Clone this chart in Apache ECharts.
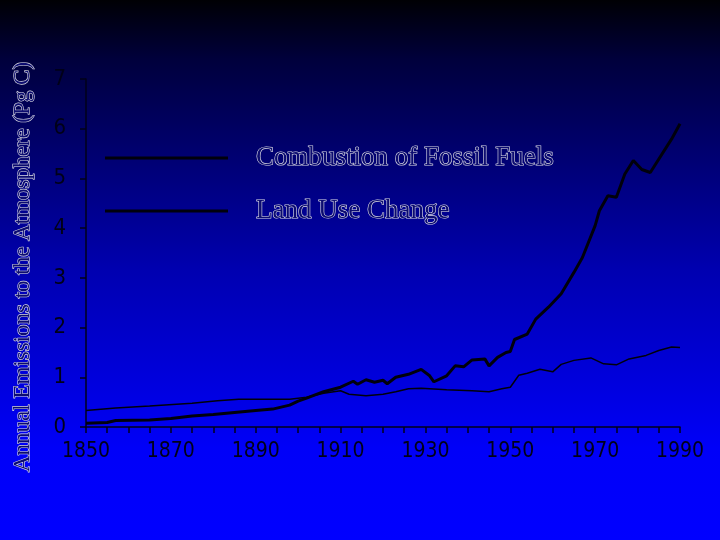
<!DOCTYPE html>
<html>
<head>
<meta charset="utf-8">
<script src="https://cdn.jsdelivr.net/npm/echarts@6/dist/echarts.min.js"></script>
<style>html,body{margin:0;padding:0;background:#000;}#c{width:720px;height:540px;}</style>
</head>
<body>
<div id="c"></div>
<script>
const seriesNames = ['Combustion of Fossil Fuels', 'Land Use Change'];
const yAxisTitle = 'Annual Emissions to the Atmosphere (Pg C)';

const fossilYears = [1850,1855,1857,1865,1870,1875,1880,1885,1890,1894,1898,1900,1902,1906,1910,1913,1914,1916,1918,1920,1921,1923,1926,1929,1931,1932,1935,1937,1939,1941,1944,1945,1947,1949,1950,1951,1954,1956,1959,1962,1965,1967,1970,1971,1973,1975,1977,1979,1981,1983,1988,1990];
const fossilValues = [0.075,0.09,0.13,0.14,0.17,0.22,0.25,0.29,0.33,0.36,0.44,0.52,0.58,0.71,0.80,0.92,0.86,0.95,0.90,0.94,0.87,1.00,1.06,1.16,1.03,0.91,1.03,1.23,1.21,1.35,1.37,1.23,1.40,1.50,1.52,1.76,1.87,2.17,2.41,2.68,3.11,3.41,4.05,4.35,4.65,4.62,5.09,5.36,5.18,5.12,5.79,6.10];

const landYears = [1850,1857,1865,1875,1881,1886,1898,1902,1906,1910,1912,1916,1920,1923,1926,1929,1935,1941,1945,1948,1950,1952,1954,1957,1960,1962,1965,1969,1972,1975,1978,1982,1985,1988,1990];
const landValues = [0.33,0.38,0.42,0.48,0.53,0.56,0.56,0.60,0.68,0.73,0.66,0.63,0.66,0.71,0.77,0.78,0.75,0.73,0.71,0.77,0.80,1.04,1.08,1.16,1.11,1.26,1.34,1.39,1.27,1.25,1.37,1.44,1.54,1.61,1.60];

const xMin = 1850, xMax = 1990, xInterval = 20;
const yMin = 0, yMax = 7, yInterval = 1;

const pair = (xs, ys) => xs.map((x, i) => [x, ys[i]]);

const outlineText = {
  fontFamily: '"Liberation Serif", "Times New Roman", serif',
  color: '#0c0c70',
  textBorderColor: '#dcdce4',
  textBorderWidth: 1.2
};
const tickFont = '"DejaVu Sans Condensed", sans-serif';
const dark = '#000018';

const chart = echarts.init(document.getElementById('c'), null, {renderer: 'canvas'});
chart.setOption({
  animation: false,
  backgroundColor: {
    type: 'linear', x: 0, y: 0, x2: 0, y2: 1,
    colorStops: [
      {offset: 0, color: '#000004'},
      {offset: 0.11, color: '#00003c'},
      {offset: 0.5, color: '#0000b0'},
      {offset: 0.83, color: '#0000f8'},
      {offset: 1, color: '#0000ff'}
    ]
  },
  grid: {left: 86, right: 40, top: 79, bottom: 113, containLabel: false},
  legend: {
    orient: 'vertical',
    left: 105, top: 143,
    padding: 0,
    itemWidth: 123, itemHeight: 3,
    itemGap: 23,
    icon: 'rect',
    data: seriesNames,
    textStyle: Object.assign({fontSize: 27, lineHeight: 24, padding: [6, 0, 0, 23]}, outlineText)
  },
  xAxis: {
    type: 'value', min: xMin, max: xMax, interval: xInterval,
    axisLine: {show: true, lineStyle: {color: dark, width: 1.5}},
    axisTick: {show: true, inside: false, length: 6, lineStyle: {color: dark, width: 1.5}},
    minorTick: {show: true, splitNumber: 4, length: 6, lineStyle: {color: dark, width: 1.5}},
    splitLine: {show: false},
    axisLabel: {color: dark, fontFamily: tickFont, fontSize: 21, margin: 14, showMinLabel: true, showMaxLabel: true, formatter: v => String(v)}
  },
  yAxis: {
    type: 'value', min: yMin, max: yMax, interval: yInterval,
    name: yAxisTitle,
    nameLocation: 'middle',
    nameRotate: 90,
    nameGap: 52,
    nameTextStyle: Object.assign({fontSize: 23, padding: [0, 28, 0, 0]}, outlineText),
    axisLine: {show: true, lineStyle: {color: dark, width: 1.5}},
    axisTick: {show: true, inside: false, length: 6, lineStyle: {color: dark, width: 1.5}},
    splitLine: {show: false},
    axisLabel: {color: dark, fontFamily: tickFont, fontSize: 22, margin: 20, showMinLabel: true, showMaxLabel: true, hideOverlap: false}
  },
  series: [
    {
      name: seriesNames[0], type: 'line', showSymbol: false, symbol: 'none',
      data: pair(fossilYears, fossilValues),
      lineStyle: {color: '#00000c', width: 3},
      itemStyle: {color: '#00000c'}
    },
    {
      name: seriesNames[1], type: 'line', showSymbol: false, symbol: 'none',
      data: pair(landYears, landValues),
      lineStyle: {color: '#00000c', width: 1.5},
      itemStyle: {color: '#00000c'}
    }
  ]
});
</script>
</body>
</html>
